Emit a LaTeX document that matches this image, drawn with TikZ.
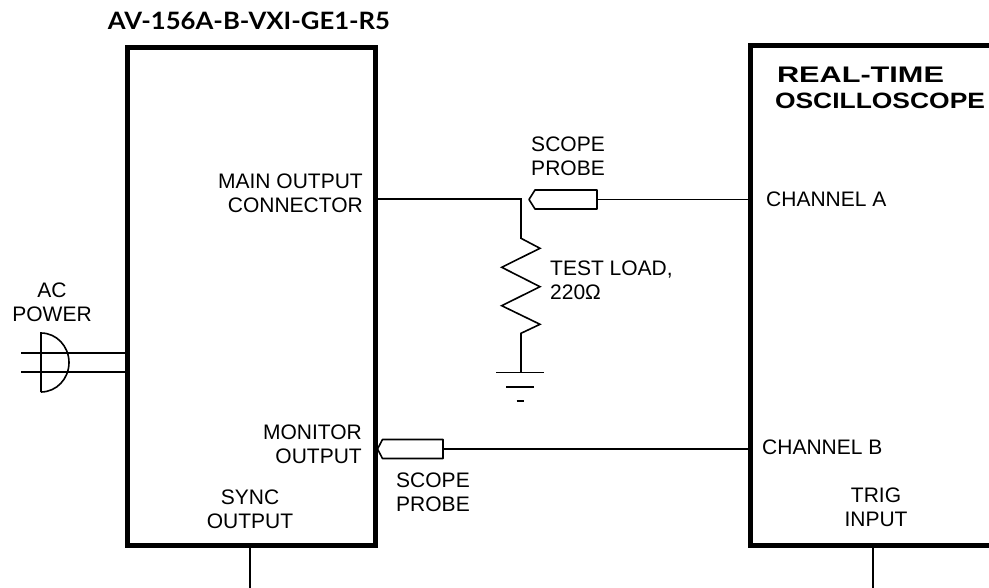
\documentclass[tikz,border=0pt]{standalone}
\usepackage{fontspec}
\usepackage{graphicx}
\setmainfont{Liberation Sans}
\newfontfamily\titlefont{Lato}[BoldFont={Lato Bold}]
\begin{document}
\begin{tikzpicture}[x=1pt,y=-1pt,
  thick box/.style={draw, line width=5pt, inner sep=0pt},
  wire/.style={line width=1.6pt},
  lbl/.style={inner sep=0pt, font=\fontsize{21}{24}\selectfont},
]
\useasboundingbox (0,0) rectangle (989,587);
\clip (0,0) rectangle (989,587);

% boxes
\node[thick box, minimum width=248pt, minimum height=498pt] (gen) at (251.5,296.5) {};
\node[thick box, minimum width=270pt, minimum height=500pt] (scope) at (885.5,295.5) {};

% titles
\node[inner sep=0pt] (title) at (249,21) {\resizebox{282pt}{17.5pt}{\titlefont\bfseries AV-156A-B-VXI-GE1-R5}};
\node[inner sep=0pt] (rt) at (860.5,74.5) {\resizebox{167pt}{15.5pt}{\bfseries REAL-TIME}};
\node[inner sep=0pt] (osc) at (880,101) {\resizebox{210pt}{15.5pt}{\bfseries OSCILLOSCOPE}};

% labels
\node[lbl, align=right, anchor=east] (mainout) at (363,193) {MAIN OUTPUT\\CONNECTOR};
\node[lbl, align=right, anchor=east] (monout) at (362,444.5) {MONITOR\\OUTPUT};
\node[lbl, align=center] (syncout) at (250,509) {SYNC\\OUTPUT};
\node[lbl, align=center] (trig) at (876,507) {TRIG\\INPUT};
\node[lbl, align=center] (acp) at (52,302) {AC\\POWER};
\node[lbl, align=center] (sp1) at (568,156) {SCOPE\\PROBE};
\node[lbl, align=center] (sp2) at (433,492) {SCOPE\\PROBE};
\node[lbl, align=left, anchor=west] (tl) at (550,280) {TEST LOAD,\\220Ω};
\node[lbl, anchor=west] (cha) at (766,199) {CHANNEL A};
\node[lbl, anchor=west] (chb) at (762,447) {CHANNEL B};

% main output wire, resistor, ground
\coordinate (j) at (521,199);
\coordinate (rtop) at (521,238.3);
\coordinate (rbot) at (521,333.3);
\coordinate (gnd) at (521,372.3);
\draw[wire] (gen.east |- j) -- (j) -- (rtop)
  -- (540,248.3) -- (501.7,267.3) -- (540,286.7) -- (501.7,305.7) -- (540,324.3) -- (rbot) -- (gnd);
\draw[wire] (496,372.3) -- (544,372.3);
\draw[wire] (506,386.7) -- (534,386.7);
\draw[wire] (516.7,400.7) -- (524.3,400.7);

% probe A
\coordinate (patip) at (529,199.5);
\coordinate (paend) at (597,199.5);
\draw[wire, line join=round] (patip) -- (535,190) -- (597,190) -- (597,209) -- (535,209) -- cycle;
\draw[wire] (paend) -- (scope.west |- paend);

% probe B
\coordinate (pbtip) at (377.5,449);
\coordinate (pbend) at (443,449);
\draw[wire, line join=round] (pbtip) -- (382.5,439.5) -- (443,439.5) -- (443,458.5) -- (382.5,458.5) -- cycle;
\draw[wire] (pbend) -- (scope.west |- pbend);

% AC power plug
\coordinate (ac1) at (21,353);
\coordinate (ac2) at (21,372);
\draw[wire] (ac1) -- (gen.west |- ac1);
\draw[wire] (ac2) -- (gen.west |- ac2);
\draw[wire] (41,392) -- (41,333) arc[start angle=-90, end angle=90, x radius=28, y radius=29.5];

% sync and trig
\coordinate (syncend) at (250,590);
\coordinate (trigend) at (873,590);
\draw[wire] (gen.south -| syncend) -- (syncend);
\draw[wire] (scope.south -| trigend) -- (trigend);
\end{tikzpicture}
\end{document}
